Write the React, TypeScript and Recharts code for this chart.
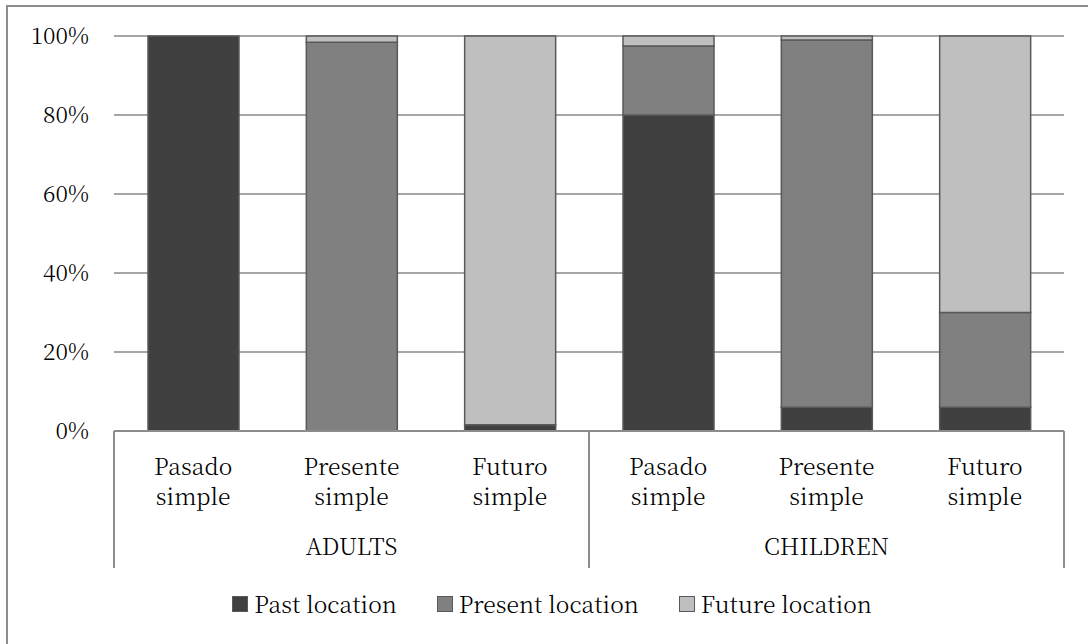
import React from 'react';
import { BarChart, Bar, XAxis, YAxis, CartesianGrid, Legend } from 'recharts';

const categoryLines: string[][] = [
  ['Pasado', 'simple'],
  ['Presente', 'simple'],
  ['Futuro', 'simple'],
  ['Pasado', 'simple'],
  ['Presente', 'simple'],
  ['Futuro', 'simple'],
];
const groups = ['ADULTS', 'CHILDREN'];
const pastLocation = [100, 0, 1.6, 80, 6, 6];
const presentLocation = [0, 98.4, 0, 17.5, 93, 24];
const futureLocation = [0, 1.6, 98.4, 2.5, 1, 70];
const yTicks = [0, 20, 40, 60, 80, 100];

const seriesNames = ['Past location', 'Present location', 'Future location'];
const seriesColors = ['#404040', '#808080', '#bfbfbf'];

const data = categoryLines.map((lines, i) => ({
  key: `${groups[Math.floor(i / 3)]} ${lines.join(' ')}`,
  past: pastLocation[i],
  present: presentLocation[i],
  future: futureLocation[i],
}));

const FONT = '"Noto Serif CJK SC", "Liberation Serif", "Inter"';
const FS = 23;
const FW = 300;
const STROKE = '#595959';

const CategoryTick = (props: any) => {
  const { x, y, payload, index } = props;
  const half = payload && payload.offset ? payload.offset : 0;
  const lines = categoryLines[index] || [];
  const isLast = index === categoryLines.length - 1;
  return (
    <g>
      {lines.map((t, j) => (
        <text
          key={j}
          x={x}
          y={y + 44 + j * 30}
          textAnchor="middle"
          style={{ fontFamily: FONT, fontSize: FS, fontWeight: FW }}
          fill="#000"
        >
          {t}
        </text>
      ))}
      {index % 3 === 1 && (
        <text x={x} y={y + 124} textAnchor="middle" style={{ fontFamily: FONT, fontSize: FS, fontWeight: FW }} fill="#000">
          {groups[Math.floor(index / 3)]}
        </text>
      )}
      {index % 3 === 0 && (
        <line x1={x - half} x2={x - half} y1={y} y2={y + 137} stroke="#8c8c8c" strokeWidth={2} />
      )}
      {isLast && (
        <line x1={x + half} x2={x + half} y1={y} y2={y + 137} stroke="#8c8c8c" strokeWidth={2} />
      )}
    </g>
  );
};

const YTick = (props: any) => {
  const { x, y, payload } = props;
  return (
    <text x={x} y={y + 8} textAnchor="end" style={{ fontFamily: FONT, fontSize: FS, fontWeight: FW }} fill="#000">
      {`${payload.value}%`}
    </text>
  );
};

const renderLegend = () => (
  <div
    style={{
      display: 'flex',
      justifyContent: 'center',
      gap: 40,
      fontFamily: FONT,
      fontSize: FS,
      fontWeight: FW,
      color: '#000',
      paddingLeft: 16,
      lineHeight: '28px',
    }}
  >
    {seriesNames.map((n, i) => (
      <div key={n} style={{ display: 'flex', alignItems: 'center' }}>
        <span
          style={{
            display: 'inline-block',
            width: 14,
            height: 14,
            background: seriesColors[i],
            border: `1px solid ${STROKE}`,
            marginRight: 6,
          }}
        />
        <span>{n}</span>
      </div>
    ))}
  </div>
);

export default function App() {
  return (
    <div style={{ position: 'fixed', left: 0, top: 0, width: 1088, height: 644, overflow: 'hidden', background: '#fff', fontFamily: FONT }}>
      <div
        style={{
          position: 'absolute',
          left: 6,
          top: 5,
          width: 1200,
          height: 800,
          border: '2px solid #8c8c8c',
        }}
      />
      <div style={{ position: 'absolute', left: 0, top: 0 }}>
        <BarChart
          width={1088}
          height={644}
          data={data}
          margin={{ top: 36, right: 24, left: 0, bottom: 0 }}
          barSize={91}
        >
          <CartesianGrid vertical={false} stroke="#a6a6a6" strokeWidth={2} />
          <YAxis
            type="number"
            domain={[0, 100]}
            ticks={yTicks}
            axisLine={false}
            tickLine={false}
            width={114}
            tickSize={0}
            tickMargin={25}
            tick={<YTick />}
          />
          <XAxis
            dataKey="key"
            height={213}
            axisLine={{ stroke: '#8c8c8c', strokeWidth: 2 }}
            tickLine={false}
            tickSize={0}
            tickMargin={0}
            interval={0}
            tick={<CategoryTick />}
          />
          <Legend
            layout="horizontal"
            verticalAlign="middle"
            align="center"
            content={renderLegend}
            wrapperStyle={{ top: 590, left: 0, width: 1088 }}
          />
          <Bar dataKey="past" name={seriesNames[0]} stackId="a" fill={seriesColors[0]} stroke={STROKE} strokeWidth={1.5} isAnimationActive={false} />
          <Bar dataKey="present" name={seriesNames[1]} stackId="a" fill={seriesColors[1]} stroke={STROKE} strokeWidth={1.5} isAnimationActive={false} />
          <Bar dataKey="future" name={seriesNames[2]} stackId="a" fill={seriesColors[2]} stroke={STROKE} strokeWidth={1.5} isAnimationActive={false} />
        </BarChart>
      </div>
    </div>
  );
}
